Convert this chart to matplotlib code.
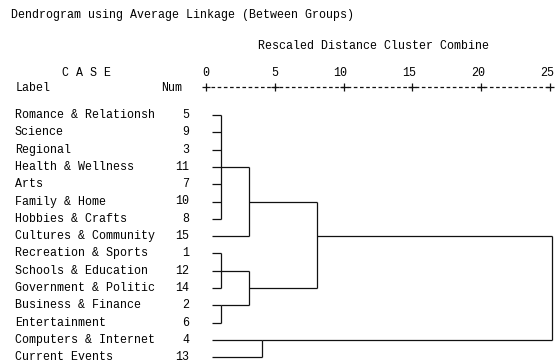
import matplotlib
matplotlib.use('Agg')
import matplotlib.pyplot as plt

# cases in display order
labels = ['Romance & Relationsh', 'Science', 'Regional', 'Health & Wellness',
          'Arts', 'Family & Home', 'Hobbies & Crafts', 'Cultures & Community',
          'Recreation & Sports', 'Schools & Education', 'Government & Politic',
          'Business & Finance', 'Entertainment', 'Computers & Internet',
          'Current Events']
nums = [5, 9, 3, 11, 7, 10, 8, 15, 1, 12, 14, 2, 6, 4, 13]

# merges: (children, rescaled distance); children are case numbers or merge ids 'm0', 'm1', ...
merges = [
    ([5, 9, 3, 11, 7, 10, 8], 1.11),
    ([1, 12, 14], 1.11),
    ([2, 6], 1.11),
    (['m0', 15], 3.12),
    (['m1', 'm2'], 3.12),
    ([4, 13], 4.09),
    (['m3', 'm4'], 8.09),
    (['m6', 'm5'], 25.12),
]
ticks = [0, 5, 10, 15, 20, 25]
leaf_start = 0.4

W, H, DPI = 555, 363, 100
X0, XS = 206.0, 13.76      # px of distance 0, px per unit
Y0, YS = 115.0, 17.3       # px of first row, px per row

def px2x(px):
    return (px - X0) / XS

def px2y(py):
    return (py - Y0) / YS

fig = plt.figure(figsize=(W / DPI, H / DPI), dpi=DPI, facecolor='white')
ax = fig.add_axes([0, 0, 1, 1])
ax.set_xlim(px2x(0), px2x(W))
ax.set_ylim(px2y(H), px2y(0))
ax.axis('off')

font = dict(family=['Liberation Mono', 'DejaVu Sans Mono'], fontsize=8.4, color='black')
lc = dict(color='#111111', lw=0.9, solid_capstyle='butt')

# header
ax.text(px2x(11), px2y(15), 'Dendrogram using Average Linkage (Between Groups)', va='center', ha='left', **font)
ax.text(px2x(258), px2y(46), 'Rescaled Distance Cluster Combine', va='center', ha='left', **font)
ax.text(px2x(62), px2y(73), 'C A S E', va='center', ha='left', **font)
ax.text(px2x(16), px2y(88), 'Label', va='center', ha='left', **font)
ax.text(px2x(182), px2y(88), 'Num', va='center', ha='right', **font)
for t in ticks:
    ax.text(t + 0.27, px2y(73), str(t), va='center', ha='right', **font)

# ruler
ry = px2y(87)
ax.plot([px2x(X0 + 6.88 - 2), ticks[-1]], [ry, ry], color='#111111', lw=0.9,
        dashes=(2.88, 2.07))
ax.plot(ticks, [ry] * len(ticks), linestyle='none', marker='+', ms=5.5,
        mew=0.9, color='#111111')

# case labels
for i, (lab, n) in enumerate(zip(labels, nums)):
    ax.text(px2x(15), i, lab, va='center', ha='left', **font)
    ax.text(px2x(189), i, str(n), va='center', ha='right', **font)

# tree
row = {n: i for i, n in enumerate(nums)}
height = {n: leaf_start for n in nums}
for k, (children, h) in enumerate(merges):
    rows = [row[c] for c in children]
    for c in children:
        ax.plot([height[c], h], [row[c], row[c]], **lc)
    ax.plot([h, h], [min(rows), max(rows)], **lc)
    key = 'm%d' % k
    row[key] = (min(rows) + max(rows)) // 2
    height[key] = h

fig.savefig('out.png', dpi=DPI, facecolor='white')
